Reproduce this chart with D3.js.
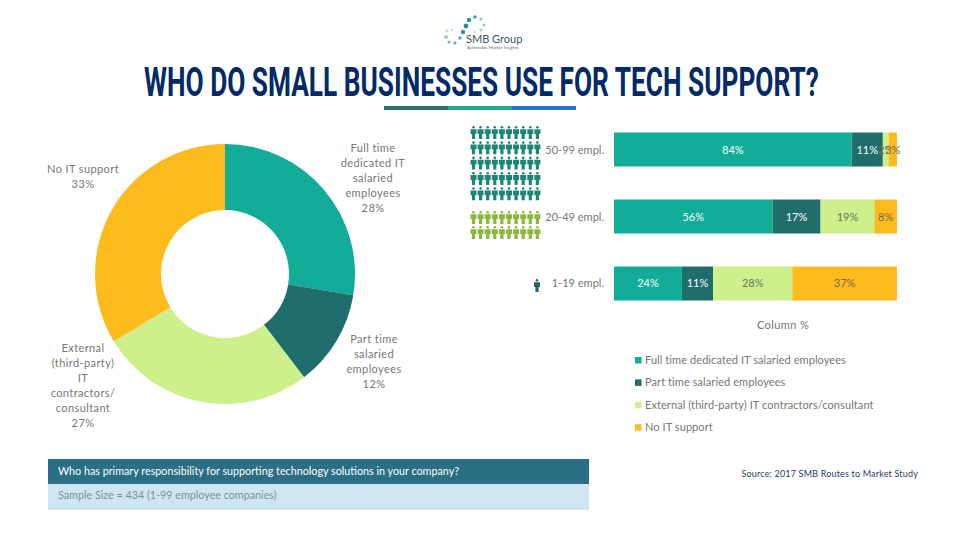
<!DOCTYPE html>
<html>
<head>
<meta charset="utf-8">
<script src="https://cdn.jsdelivr.net/npm/d3@7"></script>
<style>
html, body { margin: 0; padding: 0; background: #fff; }
svg { display: block; }
text { font-family: Lato, sans-serif; }
</style>
</head>
<body>
<div id="chart"></div>
<script>
const responses = ["Full time dedicated IT salaried employees", "Part time salaried employees", "External (third-party) IT contractors/consultant", "No IT support"];
const responseColors = ["#12ac99", "#206e6c", "#cdf08c", "#fdbb1e"];
// slice sizes, the printed labels are rounded
const overall = [27.6, 12, 26.7, 33.7];
const donutLabels = [
    ["Full time", "dedicated IT", "salaried", "employees", "28%"],
    ["Part time", "salaried", "employees", "12%"],
    ["External", "(third-party)", "IT", "contractors/", "consultant", "27%"],
    ["No IT support", "33%"]
];
const sizes = ["50-99 empl.", "20-49 empl.", "1-19 empl."];
const fullTime = [84, 56, 24];
const partTime = [11, 17, 11];
const external = [2, 19, 28];
const noSupport = [3, 8, 37];
const peopleRows = [5, 2, 1];
const peopleCols = [10, 10, 1];
const peopleColors = ["#1c8578", "#8ab83a", "#2c5f6b"];

const width = 960;
const height = 540;
const grey = "#767676";

const svg = d3.select("#chart")
    .append("svg")
    .attr("width", width)
    .attr("height", height);

// logo
const logo = svg.append("g");
const logoDots = [
    [475, 17, 1.8, "#4a9fb0"], [469, 20, 2.2, "#2f93a5"], [481, 19, 1.6, "#8cc6b8"],
    [466, 26, 2.4, "#1f8ea8"], [484, 25, 1.6, "#8cc6b8"], [463, 32, 2.2, "#2f93a5"],
    [481, 30, 1.6, "#a9d6c0"], [475, 32, 1.2, "#cfe3b0"], [460, 38, 1.8, "#5fb0b0"],
    [452, 30, 1.2, "#d8e6b8"], [447, 31, 1.6, "#cfe0b0"], [446, 37, 2, "#a6d0b0"],
    [449, 42, 1.6, "#6fbcae"], [455, 43, 1.6, "#5fb0b0"]
];
logo.selectAll("circle").data(logoDots).enter().append("circle")
    .attr("cx", d => d[0]).attr("cy", d => d[1]).attr("r", d => d[2]).attr("fill", d => d[3]);
logo.append("text").attr("x", 466).attr("y", 43)
    .attr("font-size", 11).attr("fill", "#3c5560").text("SMB Group");
logo.append("text").attr("x", 467).attr("y", 49)
    .attr("font-size", 4.4).attr("fill", "#5a6a70").text("Actionable Market Insights");

// title, squeezed to the width it has in the picture
const title = svg.append("text")
    .style("font-family", "'Liberation Sans Narrow', Roboto, sans-serif")
    .style("font-weight", 700)
    .style("font-size", "40px")
    .attr("fill", "#022a66")
    .text("WHO DO SMALL BUSINESSES USE FOR TECH SUPPORT?");
const titleScale = 675 / title.node().getComputedTextLength();
title.attr("transform", `translate(144,96) scale(${titleScale},1)`);

const ruleColors = ["#2a6f6b", "#1fa98f", "#2b6fd1"];
svg.selectAll("rect.rule").data(ruleColors).enter().append("rect")
    .attr("class", "rule")
    .attr("x", (d, i) => 384 + i * 64).attr("y", 106)
    .attr("width", 64).attr("height", 4)
    .attr("fill", d => d);

// donut
const pie = d3.pie().sort(null);
const arc = d3.arc().innerRadius(64).outerRadius(130);
const donut = svg.append("g").attr("transform", "translate(225,274)");
donut.selectAll("path").data(pie(overall)).enter().append("path")
    .attr("d", arc)
    .attr("fill", (d, i) => responseColors[i]);

const labelPos = [[373, 152], [374, 343], [83, 352], [83, 173]];
donutLabels.forEach((lines, i) => {
    svg.append("text")
        .attr("text-anchor", "middle")
        .attr("fill", grey)
        .style("font-size", "11px")
        .style("letter-spacing", "0.4px")
        .selectAll("tspan").data(lines).enter().append("tspan")
        .attr("x", labelPos[i][0])
        .attr("y", (d, j) => labelPos[i][1] + j * 15)
        .text(d => d);
});

// stacked bars
const rows = sizes.map((s, i) => ({ size: s, 0: fullTime[i], 1: partTime[i], 2: external[i], 3: noSupport[i] }));
const x = d3.scaleLinear().domain([0, 100]).range([614, 897]);
const y = d3.scaleBand().domain(sizes).range([132.5, 300.5]).paddingInner(0.4925).paddingOuter(0);
const stack = d3.stack().keys([0, 1, 2, 3]);

const layers = svg.selectAll("g.layer").data(stack(rows)).enter().append("g")
    .attr("class", "layer")
    .attr("fill", d => responseColors[d.key]);
layers.selectAll("rect").data(d => d).enter().append("rect")
    .attr("x", d => x(d[0]))
    .attr("y", d => y(d.data.size))
    .attr("width", d => x(d[1]) - x(d[0]))
    .attr("height", y.bandwidth());

const valueFill = ["#ffffff", "#ffffff", "#6b7560", "#75694f"];
layers.each(function (layer) {
    d3.select(this).selectAll("text").data(layer).enter().append("text")
        .attr("x", d => (x(d[0]) + x(d[1])) / 2)
        .attr("y", d => y(d.data.size) + y.bandwidth() / 2 + 4)
        .attr("text-anchor", "middle")
        .attr("fill", valueFill[layer.key])
        .style("font-size", "11px")
        .text(d => (d[1] - d[0]) + "%");
});

// row labels and people
sizes.forEach(s => {
    svg.append("text")
        .attr("x", 604).attr("y", y(s) + y.bandwidth() / 2 + 4)
        .attr("text-anchor", "end")
        .attr("fill", grey)
        .style("font-size", "11px")
        .text(s);
});

function person(g, px, py, color) {
    const p = g.append("g").attr("transform", `translate(${px},${py})`).attr("fill", color);
    p.append("circle").attr("cx", 0).attr("cy", 1.3).attr("r", 1.3);
    p.append("path").attr("d", "M-3 3.2H3V8H1.6V13H-1.6V8H-3Z");
}
const peopleTop = [126, 211, 279];
const peopleGap = [15.3, 15, 0];
sizes.forEach((s, i) => {
    const g = svg.append("g");
    d3.range(peopleRows[i]).forEach(r => {
        d3.range(peopleCols[i]).forEach(c => {
            const px = peopleCols[i] === 1 ? 537 : 473.5 + c * 7.1;
            person(g, px, peopleTop[i] + r * peopleGap[i], peopleColors[i]);
        });
    });
});

svg.append("text")
    .attr("x", 783).attr("y", 329)
    .attr("text-anchor", "middle")
    .attr("fill", grey)
    .style("font-size", "11px")
    .style("letter-spacing", "0.4px")
    .text("Column %");

// legend
const legend = svg.selectAll("g.legend").data(responses).enter().append("g")
    .attr("class", "legend")
    .attr("transform", (d, i) => `translate(635,${360 + i * 22.4})`);
legend.append("rect")
    .attr("x", 0).attr("y", -3).attr("width", 6.5).attr("height", 6.5)
    .attr("fill", (d, i) => responseColors[i]);
legend.append("text")
    .attr("x", 10).attr("y", 4)
    .attr("fill", grey)
    .style("font-size", "11px")
    .style("letter-spacing", "0.08px")
    .text(d => d);

// question box
svg.append("rect").attr("x", 48).attr("y", 459).attr("width", 541).attr("height", 25).attr("fill", "#2c6f85");
svg.append("rect").attr("x", 48).attr("y", 484).attr("width", 541).attr("height", 26).attr("fill", "#cde6f0");
svg.append("text").attr("x", 58).attr("y", 475)
    .attr("fill", "#ffffff").style("font-size", "10.75px")
    .text("Who has primary responsibility for supporting technology solutions in your company?");
svg.append("text").attr("x", 58).attr("y", 499)
    .attr("fill", "#7f8f98").style("font-size", "10.75px")
    .text("Sample Size = 434 (1-99 employee companies)");

svg.append("text").attr("x", 918).attr("y", 477)
    .attr("text-anchor", "end")
    .attr("fill", "#1f3a63").style("font-size", "9px")
    .style("letter-spacing", "0.18px")
    .text("Source: 2017 SMB Routes to Market Study");
</script>
</body>
</html>
